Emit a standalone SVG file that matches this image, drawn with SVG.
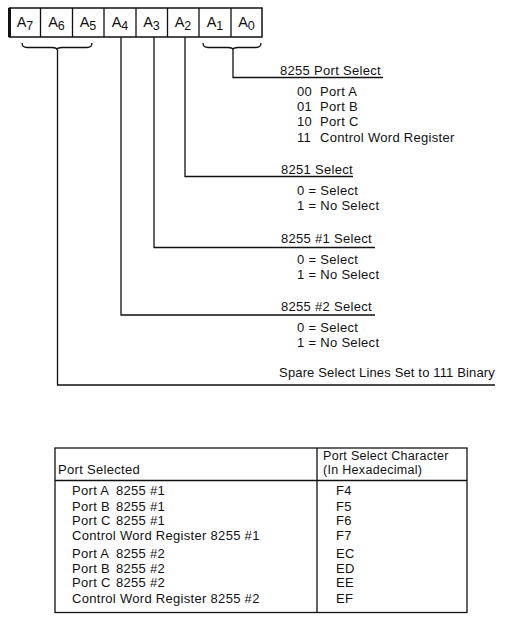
<svg xmlns="http://www.w3.org/2000/svg" width="506" height="618" viewBox="0 0 506 618">
<style>
text{font-family:"Liberation Sans",Arial,sans-serif;font-size:13px;fill:#111;letter-spacing:0.3px}
.reg{font-size:14.5px;letter-spacing:0}
.sub{font-size:12.5px}
.hd{font-size:12.5px}
.ln{stroke:#111;stroke-width:1.3;fill:none}
.bx{stroke:#111;stroke-width:1.5;fill:#fff}
</style>
<rect width="506" height="618" fill="#fff"/>
<g id="register">
<rect class="bx" x="9.5" y="8" width="252.5" height="29"/>
<path class="ln" d="M9.5 8V37" style="stroke-width:3"/>
<path class="ln" d="M40.5 8V37M72.5 8V37M104 8V37M136 8V37M167.5 8V37M199 8V37M231 8V37"/>
<text class="reg" x="25" y="27" text-anchor="middle">A<tspan class="sub" dy="3">7</tspan></text>
<text class="reg" x="56.5" y="27" text-anchor="middle">A<tspan class="sub" dy="3">6</tspan></text>
<text class="reg" x="88" y="27" text-anchor="middle">A<tspan class="sub" dy="3">5</tspan></text>
<text class="reg" x="120" y="27" text-anchor="middle">A<tspan class="sub" dy="3">4</tspan></text>
<text class="reg" x="151.5" y="27" text-anchor="middle">A<tspan class="sub" dy="3">3</tspan></text>
<text class="reg" x="183" y="27" text-anchor="middle">A<tspan class="sub" dy="3">2</tspan></text>
<text class="reg" x="215" y="27" text-anchor="middle">A<tspan class="sub" dy="3">1</tspan></text>
<text class="reg" x="246.5" y="27" text-anchor="middle">A<tspan class="sub" dy="3">0</tspan></text>
</g>
<g id="connectors">
<path class="ln" d="M22 43Q22 47.5 27 47.5H52Q57 47.5 57 50Q57 47.5 62 47.5H87Q92 47.5 92 43"/>
<path class="ln" d="M203 43Q203 47.5 208 47.5H228Q233 47.5 233 50Q233 47.5 238 47.5H256Q261 47.5 261 43"/>
<path class="ln" d="M233 50V77.5H383"/>
<path class="ln" d="M185 37V176.5H353"/>
<path class="ln" d="M154 37V247.5H375"/>
<path class="ln" d="M121 37V315H375"/>
<path class="ln" d="M57.5 50V385H495"/>
</g>
<g id="port-select-8255">
<text x="280" y="75">8255 Port Select</text>
<text x="297" y="96">00<tspan x="320">Port A</tspan></text>
<text x="297" y="111">01<tspan x="320">Port B</tspan></text>
<text x="297" y="126">10<tspan x="320">Port C</tspan></text>
<text x="297" y="141.5">11<tspan x="320">Control Word Register</tspan></text>
</g>
<g id="select-8251">
<text x="281" y="173.5">8251 Select</text>
<text x="297" y="195">0 = Select</text>
<text x="297" y="210">1 = No Select</text>
</g>
<g id="select-8255-1">
<text x="281" y="243">8255 #1 Select</text>
<text x="297" y="263.5">0 = Select</text>
<text x="297" y="279">1 = No Select</text>
</g>
<g id="select-8255-2">
<text x="281" y="311">8255 #2 Select</text>
<text x="297" y="332">0 = Select</text>
<text x="297" y="347">1 = No Select</text>
</g>
<g id="spare">
<text x="495" y="377" text-anchor="end" style="letter-spacing:0.15px">Spare Select Lines Set to 111 Binary</text>
</g>
<g id="table">
<rect x="55" y="448" width="412" height="164.5" fill="none" stroke="#111" stroke-width="1.3"/>
<path class="ln" d="M55 480.5H467M317 448V612.5"/>
<text x="58" y="473.5">Port Selected</text>
<text class="hd" x="323" y="459.5">Port Select Character</text>
<text class="hd" x="323" y="473.5">(In Hexadecimal)</text>
<text x="72" y="495">Port A<tspan x="116">8255 #1</tspan></text>
<text x="72" y="510.5">Port B<tspan x="116">8255 #1</tspan></text>
<text x="72" y="525">Port C<tspan x="116">8255 #1</tspan></text>
<text x="72" y="540">Control Word Register 8255 #1</text>
<text x="72" y="557.5">Port A<tspan x="116">8255 #2</tspan></text>
<text x="72" y="572.5">Port B<tspan x="116">8255 #2</tspan></text>
<text x="72" y="587">Port C<tspan x="116">8255 #2</tspan></text>
<text x="72" y="602.5">Control Word Register 8255 #2</text>
<text x="336" y="495">F4</text>
<text x="336" y="510.5">F5</text>
<text x="336" y="525">F6</text>
<text x="336" y="540">F7</text>
<text x="336" y="557.5">EC</text>
<text x="336" y="572.5">ED</text>
<text x="336" y="587">EE</text>
<text x="336" y="602.5">EF</text>
</g>
</svg>
